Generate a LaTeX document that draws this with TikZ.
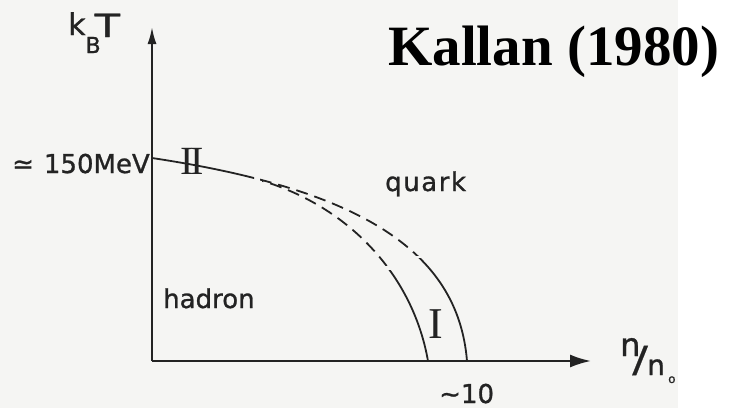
\documentclass[tikz,border=0pt]{standalone}
\usepackage{fontspec}
\setmainfont{DejaVu Sans}
\newfontfamily\handfont[FakeBold=1.0]{DejaVu Sans}
\newfontfamily\thinhand[FakeBold=0.4]{DejaVu Sans}
\newfontfamily\romanfont{Liberation Serif}
\usetikzlibrary{arrows.meta}
\definecolor{ink}{RGB}{35,35,35}
\definecolor{paper}{RGB}{245,245,243}
\begin{document}
\begin{tikzpicture}[x=1pt,y=-1pt,
  axisline/.style={line width=2.1pt, draw=ink},
  curveline/.style={line width=1.8pt, draw=ink},
  dashline/.style={curveline, dash pattern=on 12pt off 7pt},
  hand/.style={font=\handfont\fontsize{26}{26}\selectfont, text=ink, inner sep=0pt},
  numeral/.style={font=\romanfont\fontsize{44}{44}\selectfont, text=ink, inner sep=0pt},
  titletext/.style={font=\romanfont\bfseries\fontsize{57}{57}\selectfont, text=black, inner sep=0pt}]
\useasboundingbox (0,0) rectangle (729,408);
\fill[paper] (0,0) rectangle (678,408);
\fill[white] (678,0) rectangle (729,408);

% axes
\coordinate (O) at (152,361);
\coordinate (Ytip) at (152,27);
\coordinate (Xtip) at (591,361);
\draw[axisline, -{Latex[length=17pt,width=9pt]}] (O) -- (Ytip);
\draw[axisline, -{Latex[length=21pt,width=13pt]}] (O) -- (Xtip);

% phase boundary curves
\coordinate (A) at (152,158);
\coordinate (D) at (467,361);
\coordinate (S) at (252,178);
\coordinate (E) at (428,361);
\begin{scope}
  \clip (140,140) rectangle (254,200);
  \draw[curveline] (A) .. controls (358,189) and (458,250) .. (D);
\end{scope}
\begin{scope}
  \clip (260,140) rectangle (500,255);
  \draw[dashline, dash phase=4pt] (A) .. controls (358,189) and (458,250) .. (D);
\end{scope}
\begin{scope}
  \clip (300,258) rectangle (500,362);
  \draw[curveline] (A) .. controls (358,189) and (458,250) .. (D);
\end{scope}
\begin{scope}
  \clip (262,140) rectangle (500,265);
  \draw[dashline] (S) .. controls (342,201) and (412,270) .. (E);
\end{scope}
\begin{scope}
  \clip (300,270) rectangle (500,362);
  \draw[curveline] (S) .. controls (342,201) and (412,270) .. (E);
\end{scope}

% labels
\node[hand, anchor=base west] (kbt) at (68,35)
  {{\fontsize{30}{30}\selectfont k}\kern0pt\raisebox{-18pt}{\fontsize{22}{22}\selectfont B}\kern-6pt\raisebox{-2pt}{\fontsize{32}{32}\selectfont\scalebox{1.3}[1]{T}}};
\node[hand, anchor=base east] (tc) at (150,173) {≃\hspace{10pt}150MeV};
\node[hand, anchor=base west] (quark) at (385,191) {\addfontfeature{LetterSpace=6}quark};
\node[hand, anchor=base west] (hadron) at (163,308) {hadron};
\node[hand, anchor=base west] (ten) at (439,403) {∼10};
\node[hand, anchor=base west] (nn) at (620,375)
  {\fontsize{28}{28}\selectfont\rlap{\raisebox{19pt}{\fontsize{32}{32}\selectfont n}}\hspace{12pt}\rlap{\raisebox{3pt}{\thinhand\fontsize{36}{36}\selectfont\scalebox{1.3}[1]{/}}}\hspace{15pt}\rlap{n}\hspace{21pt}\raisebox{-8pt}{\fontsize{12}{12}\selectfont o}};
\node[numeral] (one) at (436,324) {I};
\node[numeral, font=\romanfont\fontsize{40}{40}\selectfont] (two) at (192,161) {I\kern-3pt I};
\node[titletext, anchor=base west] (title) at (388,65) {Kallan (1980)};
\end{tikzpicture}
\end{document}
